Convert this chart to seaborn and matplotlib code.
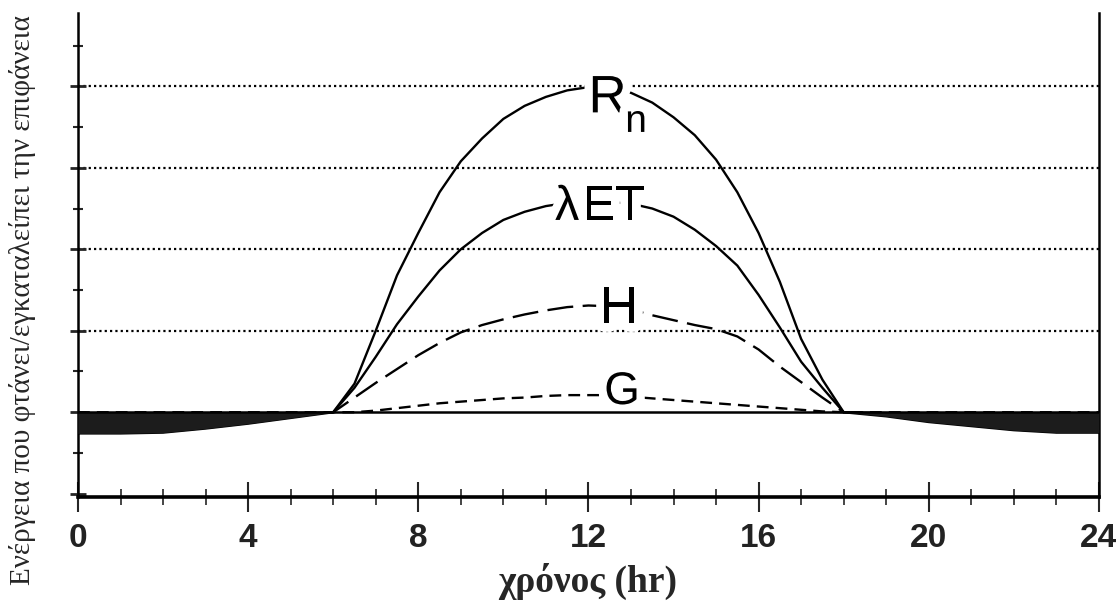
import matplotlib.pyplot as plt
import matplotlib.patheffects as pe
import pandas as pd
import seaborn as sns
from matplotlib.ticker import MultipleLocator

# hours of the day (finer steps during daytime)
hours = [0, 1, 2, 3, 4, 5, 6, 6.5, 7, 7.5, 8, 8.5, 9, 9.5, 10, 10.5, 11, 11.5, 12,
         12.5, 13, 13.5, 14, 14.5, 15, 15.5, 16, 16.5, 17, 17.5, 18, 19, 20, 21, 22, 23, 24]

rn = [-0.26, -0.26, -0.25, -0.2, -0.14, -0.07, 0, 0.35, 1.0, 1.68, 2.2, 2.7, 3.08, 3.36, 3.6,
      3.76, 3.87, 3.95, 3.99, 3.97, 3.92, 3.8, 3.62, 3.4, 3.1, 2.7, 2.2, 1.6, 0.9, 0.4, 0,
      -0.05, -0.12, -0.17, -0.22, -0.25, -0.25]
let = [-0.03, -0.03, -0.03, -0.02, -0.02, -0.01, 0, 0.3, 0.68, 1.08, 1.42, 1.74, 2.0, 2.2, 2.36,
       2.46, 2.53, 2.57, 2.59, 2.58, 2.56, 2.5, 2.4, 2.24, 2.04, 1.8, 1.44, 1.04, 0.62, 0.3, 0,
       -0.01, -0.02, -0.02, -0.03, -0.03, -0.03]
h = [-0.12, -0.12, -0.11, -0.09, -0.06, -0.03, 0, 0.18, 0.36, 0.53, 0.7, 0.85, 0.98, 1.07, 1.14,
     1.2, 1.25, 1.29, 1.31, 1.3, 1.26, 1.19, 1.13, 1.07, 1.02, 0.93, 0.77, 0.56, 0.37, 0.18, 0,
     -0.02, -0.05, -0.08, -0.1, -0.12, -0.12]
g = [0, 0, 0, 0, 0, 0, 0, 0.0, 0.02, 0.05, 0.08, 0.11, 0.13, 0.15, 0.17,
     0.18, 0.2, 0.21, 0.21, 0.21, 0.19, 0.17, 0.15, 0.13, 0.11, 0.09, 0.07, 0.05, 0.03, 0.01, 0,
     0, 0, 0, 0, 0, 0]

series_names = ['Rn', 'lET', 'H', 'G']
x_ticks = [0, 4, 8, 12, 16, 20, 24]
y_ticks = [-1, 0, 1, 2, 3, 4]
grid_levels = [1, 2, 3, 4]

df = pd.DataFrame({'hour': hours, 'Rn': rn, 'lET': let, 'H': h, 'G': g})
long_df = df.melt(id_vars='hour', var_name='series', value_name='energy')

sns.set_style('white')
sans = ['Liberation Sans Narrow', 'Liberation Sans', 'DejaVu Sans']
serif = ['Liberation Serif', 'DejaVu Serif']

fig = plt.figure(figsize=(11.17, 6.06), dpi=100)
ax = fig.add_axes([0.0698, 0.1799, 0.914, 0.7987])

sns.lineplot(data=long_df, x='hour', y='energy', hue='series', style='series',
             hue_order=series_names, style_order=series_names,
             palette={s: 'black' for s in series_names},
             dashes={'Rn': '', 'lET': '', 'H': (11, 4), 'G': (5, 3)},
             linewidth=1.7, legend=False, ax=ax, zorder=2)
for line in ax.get_lines():
    line.set_solid_joinstyle('round')

# dark band of the night-time negative net radiation
night_am = df[df['hour'] <= 6]
night_pm = df[df['hour'] >= 18]
for part in (night_am, night_pm):
    ax.fill_between(part['hour'], part['Rn'], 0, color='#1c1c1c', lw=0, zorder=4)
ax.axhline(0, color='black', lw=1.8, zorder=5)

for lvl in grid_levels:
    ax.axhline(lvl, color='black', lw=1.6, linestyle=(0, (1, 1.4)), zorder=0)

ax.set_xlim(0, 24)
ax.set_ylim(-1.04, 4.9)
ax.set_xticks(x_ticks)
ax.set_yticks(y_ticks)
ax.xaxis.set_minor_locator(MultipleLocator(1))
ax.yaxis.set_minor_locator(MultipleLocator(0.5))

ax.tick_params(axis='x', which='major', direction='inout', length=21, width=1.5, pad=8,
               labelsize=24, bottom=True)
ax.tick_params(axis='x', which='minor', direction='inout', length=12, width=1.2, bottom=True)
ax.tick_params(axis='y', which='major', direction='inout', length=12, width=2, left=True,
               labelleft=False)
ax.tick_params(axis='y', which='minor', direction='inout', length=7, width=1.5, left=True)
for lab in ax.get_xticklabels():
    lab.set_family(sans)
    lab.set_fontweight('bold')
    lab.set_color('#222222')

ax.set_xlabel('')
ax.set_ylabel('')
ax.spines['top'].set_visible(False)
ax.spines['bottom'].set_linewidth(2.6)
ax.spines['left'].set_linewidth(1.8)
ax.spines['right'].set_linewidth(1.8)
for sp in ax.spines.values():
    sp.set_color('black')

# curve labels
halo = [pe.withStroke(linewidth=12, foreground='white')]
label_kw = dict(family=sans, color='black', ha='center', va='baseline',
                path_effects=halo, zorder=3)
ax.text(12.45, 3.68, 'R', fontsize=38, **label_kw)
ax.text(13.12, 3.44, 'n', fontsize=28, **label_kw)
ax.text(11.5, 2.36, 'λ', fontsize=35, **label_kw)
ax.text(12.6, 2.36, 'ET', fontsize=35, **label_kw)
ax.text(12.72, 1.09, 'H', fontsize=38, **label_kw)
ax.text(12.79, 0.10, 'G', fontsize=33, **label_kw)

fig.text(0.526, 0.04, 'χρόνος (hr)', family=serif, fontweight='bold', fontsize=27,
         ha='center', va='center')
fig.text(0.02, 0.505, 'Ενέργεια που φτάνει/εγκαταλείπει την επιφάνεια', family=serif,
         fontsize=21, rotation=90, ha='center', va='center')

fig.savefig('out.png', dpi=100)
